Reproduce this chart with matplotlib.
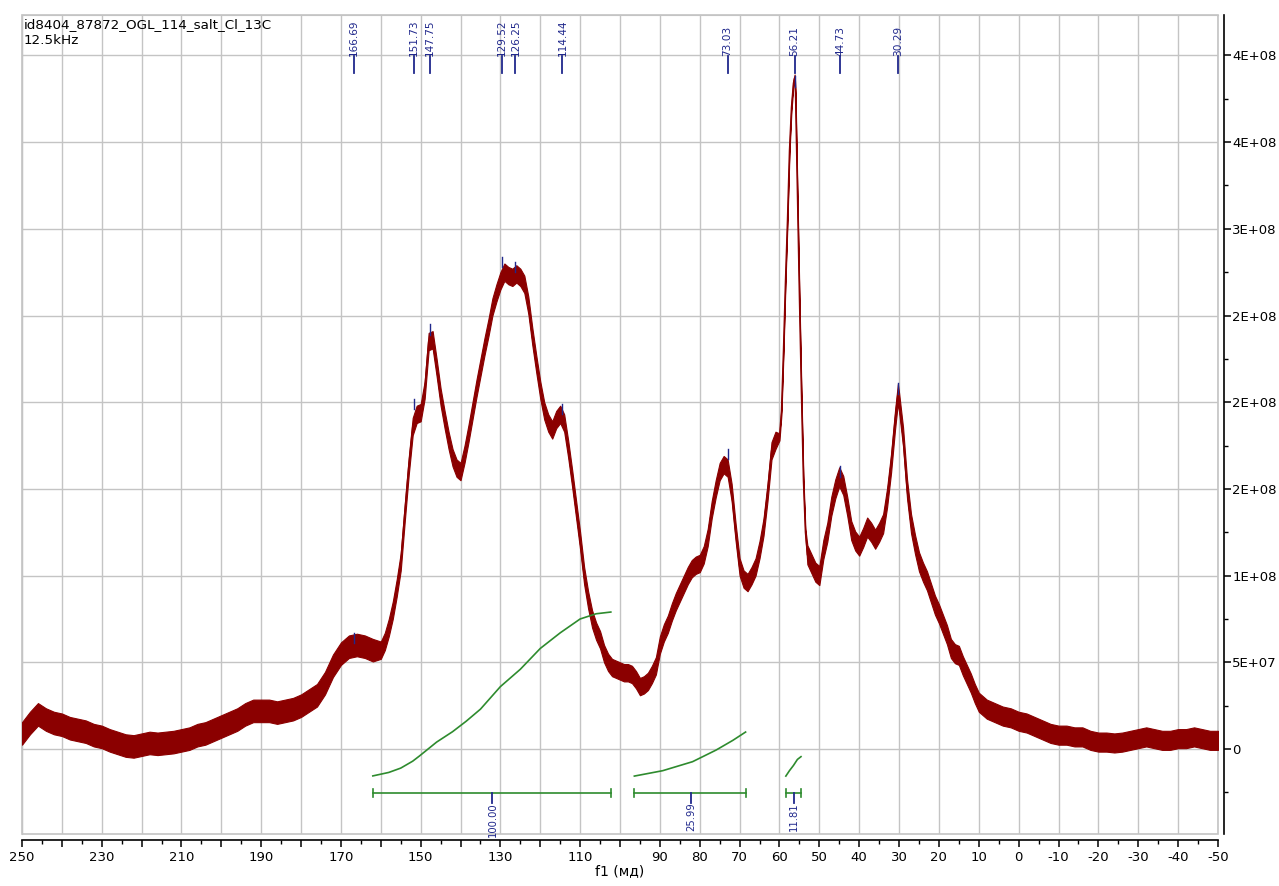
import matplotlib
matplotlib.use("Agg")
import matplotlib.pyplot as plt
import matplotlib.transforms as mtransforms
from matplotlib.patches import Rectangle
from matplotlib.ticker import FixedLocator, FixedFormatter, MultipleLocator
import numpy as np

# ---------------- data (intensity in units of 1e8) ----------------
ppm = [250, 248, 246, 244, 242, 240, 238, 236, 234, 232, 230, 228, 226, 224, 222, 220,
       218, 216, 214, 212, 210, 208, 206, 204, 202, 200, 198, 196, 194, 192, 190, 188,
       186, 184, 182, 180, 178, 176, 174, 172, 170, 168, 166, 164, 162, 160, 159, 158,
       157, 156, 155, 154, 153, 152, 151, 150, 149, 148, 147, 146, 145, 144, 143, 142,
       141, 140, 139, 138, 137, 136, 135, 134, 133, 132, 131, 130, 129, 128, 127, 126,
       125, 124, 123, 122, 121, 120, 119, 118, 117, 116, 115, 114, 113, 112, 111, 110,
       109, 108, 107, 106, 105, 104, 103, 102, 101, 100, 99, 98, 97, 96, 95, 94,
       93, 92, 91, 90, 89, 88, 87, 86, 85, 84, 83, 82, 81, 80, 79, 78,
       77, 76, 75, 74, 73, 72, 71, 70, 69, 68, 67, 66, 65, 64, 63, 62,
       61, 60, 59.5, 59, 58.5, 58, 57.5, 57, 56.5, 56.2, 56, 55.5, 55, 54.5, 54, 53.5,
       53, 52, 51, 50, 49, 48, 47, 46, 45, 44, 43, 42, 41, 40, 39, 38,
       37, 36, 35, 34, 33, 32, 31, 30.3, 30, 29, 28, 27, 26, 25, 24, 23,
       22, 21, 20, 19, 18, 17, 16, 15, 14, 13, 12, 11, 10, 8, 6, 4,
       2, 0, -2, -4, -6, -8, -10, -12, -14, -16, -18, -20, -22, -24, -26, -28,
       -30, -32, -34, -36, -38, -40, -42, -44, -46, -48, -50]
intensity = [0.09, 0.15, 0.20, 0.17, 0.15, 0.14, 0.12, 0.11, 0.10, 0.08, 0.07, 0.05, 0.035, 0.02, 0.015, 0.025,
             0.035, 0.03, 0.035, 0.04, 0.05, 0.06, 0.08, 0.09, 0.11, 0.13, 0.15, 0.17, 0.20, 0.22, 0.22, 0.22,
             0.21, 0.22, 0.23, 0.25, 0.28, 0.31, 0.38, 0.48, 0.55, 0.59, 0.60, 0.59, 0.57, 0.57, 0.62, 0.70,
             0.80, 0.93, 1.08, 1.36, 1.63, 1.86, 1.93, 1.94, 2.07, 2.35, 2.36, 2.20, 2.03, 1.90, 1.78, 1.68,
             1.62, 1.60, 1.70, 1.82, 1.95, 2.08, 2.20, 2.32, 2.43, 2.55, 2.63, 2.70, 2.75, 2.73, 2.72, 2.74,
             2.72, 2.68, 2.56, 2.38, 2.22, 2.07, 1.95, 1.88, 1.84, 1.90, 1.93, 1.88, 1.73, 1.56, 1.38, 1.20,
             1.00, 0.86, 0.75, 0.68, 0.63, 0.55, 0.50, 0.47, 0.46, 0.45, 0.44, 0.44, 0.43, 0.40, 0.36, 0.37,
             0.39, 0.43, 0.48, 0.60, 0.67, 0.72, 0.79, 0.85, 0.90, 0.95, 1.00, 1.04, 1.06, 1.07, 1.12, 1.22,
             1.38, 1.50, 1.60, 1.64, 1.62, 1.48, 1.25, 1.05, 0.98, 0.96, 1.00, 1.05, 1.15, 1.28, 1.48, 1.72,
             1.78, 1.80, 1.95, 2.30, 2.70, 3.05, 3.45, 3.70, 3.84, 3.87, 3.80, 3.20, 2.60, 2.05, 1.55, 1.25,
             1.12, 1.07, 1.02, 1.00, 1.15, 1.25, 1.40, 1.50, 1.57, 1.52, 1.40, 1.26, 1.20, 1.17, 1.22, 1.28,
             1.25, 1.21, 1.25, 1.30, 1.45, 1.65, 1.90, 2.05, 2.00, 1.80, 1.50, 1.30, 1.18, 1.08, 1.02, 0.97,
             0.90, 0.83, 0.78, 0.72, 0.66, 0.58, 0.55, 0.54, 0.48, 0.43, 0.38, 0.32, 0.27, 0.23, 0.21, 0.19,
             0.18, 0.16, 0.15, 0.13, 0.11, 0.09, 0.08, 0.08, 0.07, 0.07, 0.05, 0.04, 0.04, 0.035, 0.04, 0.05,
             0.06, 0.07, 0.06, 0.05, 0.05, 0.06, 0.06, 0.07, 0.06, 0.05, 0.05]
# noise band half-width read per region: (ppm from, ppm to, half-width)
noise_regions = [(250, 160, 0.065), (160, 60, 0.05), (60, 53, 0.02), (53, -50, 0.055)]

# peak picks
peak_ppm = [166.69, 151.73, 147.75, 129.52, 126.25, 114.44, 73.03, 56.21, 44.73, 30.29]
peak_labels = ["166.69", "151.73", "147.75", "129.52", "126.25", "114.44", "73.03", "56.21", "44.73", "30.29"]
peak_top = [0.66, 2.01, 2.44, 2.83, 2.80, 1.98, 1.72, 3.87, 1.62, 2.10]

# integrals
int1_ppm = [162.0, 158, 155, 152, 150.3, 146, 142, 138.6, 135, 130, 125, 120, 115, 110, 106, 102.3]
int1_val = [-0.155, -0.135, -0.11, -0.07, -0.04, 0.04, 0.10, 0.16, 0.23, 0.36, 0.46, 0.58, 0.67, 0.75, 0.78, 0.79]
int2_ppm = [96.4, 89.3, 81.8, 75.9, 71.7, 68.5]
int2_val = [-0.156, -0.125, -0.073, -0.006, 0.05, 0.098]
int3_ppm = [58.4, 57.5, 56.5, 55.5, 54.6]
int3_val = [-0.156, -0.125, -0.095, -0.06, -0.044]
int_ranges = [(162.0, 102.3), (96.4, 68.5), (58.4, 54.6)]
int_centers = [132.0, 82.2, 56.4]
int_labels = ["100.00", "25.99", "11.81"]

x_label_vals = [250, 230, 210, 190, 170, 150, 130, 110, 90, 80, 70, 60, 50, 40, 30, 20, 10, 0,
                -10, -20, -30, -40, -50]
y_ticks = [0, 0.5, 1.0, 1.5, 2.0, 2.5, 3.0, 3.5, 4.0]
y_tick_labels = ["0", "5E+07", "1E+08", "2E+08", "2E+08", "2E+08", "3E+08", "4E+08", "4E+08"]

title_lines = ["id8404_87872_OGL_114_salt_Cl_13C", "12.5kHz"]

# ---------------- drawing ----------------
W, H = 1279, 886
fig = plt.figure(figsize=(W / 100, H / 100), dpi=100)
L, R, T, B = 22, 1218, 15, 834
ax = fig.add_axes([L / W, (H - B) / H, (R - L) / W, (B - T) / H])
ax.set_xlim(250, -50)
ax.set_ylim(-0.49, 4.233)

RED = "#8b0000"
GREEN = "#2e8b2e"
NAVY = "#20288c"
GRID = "#c4c4c4"

ppm_a = np.array(ppm)
inten = np.array(intensity)
hw = np.zeros_like(inten)
for a, b, w in noise_regions:
    m = (ppm_a <= a) & (ppm_a >= b)
    hw[m] = w
ax.fill_between(ppm_a, inten - hw, inten + hw, color=RED, lw=0.8, zorder=3)
ax.plot(ppm_a, inten, color=RED, lw=1.0, zorder=3)

# peak tick marks at peak tops
for p, t in zip(peak_ppm, peak_top):
    ax.plot([p, p], [t - 0.05, t + 0.01], color=NAVY, lw=1.0, zorder=4)

# peak labels at top
blend = mtransforms.blended_transform_factory(ax.transData, ax.transAxes)
for p, lab in zip(peak_ppm, peak_labels):
    ax.plot([p, p], [0.9292, 0.9500], color=NAVY, lw=1.3, transform=blend, zorder=5, clip_on=False)
    ax.text(p, 0.9505, lab, rotation=90, ha="center", va="bottom", fontsize=7.6, color=NAVY,
            transform=blend, zorder=5)

# integrals
ax.plot(int1_ppm, int1_val, color=GREEN, lw=1.2, zorder=4)
ax.plot(int2_ppm, int2_val, color=GREEN, lw=1.2, zorder=4)
ax.plot(int3_ppm, int3_val, color=GREEN, lw=1.2, zorder=4)
bar_y = -0.254
for (a, b), c, lab in zip(int_ranges, int_centers, int_labels):
    ax.plot([a, b], [bar_y, bar_y], color=GREEN, lw=1.2, zorder=4)
    for e in (a, b):
        ax.plot([e, e], [bar_y - 0.025, bar_y + 0.025], color=GREEN, lw=1.2, zorder=4)
    ax.plot([c, c], [bar_y, bar_y - 0.055], color=NAVY, lw=1.3, zorder=5)
    ax.text(c, -0.308, lab, rotation=90, ha="center", va="top", fontsize=7.2, color=NAVY,
            zorder=6, clip_on=False)

# title
ax.text(0.0017, 0.996, "\n".join(title_lines), transform=ax.transAxes, ha="left", va="top",
        fontsize=9.7, color="black", linespacing=1.25)

# grid
ax.set_yticks(y_ticks)
ax.yaxis.set_minor_locator(MultipleLocator(0.25))
major_x = list(range(250, -51, -10))
xlabels = [str(v) if v in x_label_vals else "" for v in major_x]
ax.xaxis.set_major_locator(FixedLocator(major_x))
ax.xaxis.set_minor_locator(MultipleLocator(5))
ax.xaxis.set_major_formatter(FixedFormatter(xlabels))
ax.yaxis.set_major_formatter(FixedFormatter(y_tick_labels))
ax.grid(True, which="major", color=GRID, lw=1.0, zorder=0)
ax.set_axisbelow(True)

ax.yaxis.tick_right()
ax.yaxis.set_label_position("right")
for s in ("top", "left"):
    ax.spines[s].set_color(GRID)
ax.spines["bottom"].set_position(("outward", 4.3))
ax.spines["right"].set_position(("outward", 4.3))
ax.spines["bottom"].set_color("black")
ax.spines["right"].set_color("black")
ax.spines["bottom"].set_linewidth(1.2)
ax.spines["right"].set_linewidth(1.2)
ax.add_patch(Rectangle((0, 0), 1, 1, transform=ax.transAxes, fill=False, edgecolor=GRID,
                       lw=1.2, zorder=1, clip_on=False))

ax.tick_params(axis="x", which="major", direction="out", length=5, width=1.1, labelsize=9.5, pad=3)
ax.tick_params(axis="x", which="minor", direction="out", length=3, width=1.0)
ax.tick_params(axis="y", which="major", direction="out", length=5, width=1.1, labelsize=9.5, pad=1)
ax.tick_params(axis="y", which="minor", direction="out", length=3, width=1.0)

ax.set_xlabel("f1 (мд)", fontsize=10, labelpad=0)

fig.savefig("out.png", dpi=100)
